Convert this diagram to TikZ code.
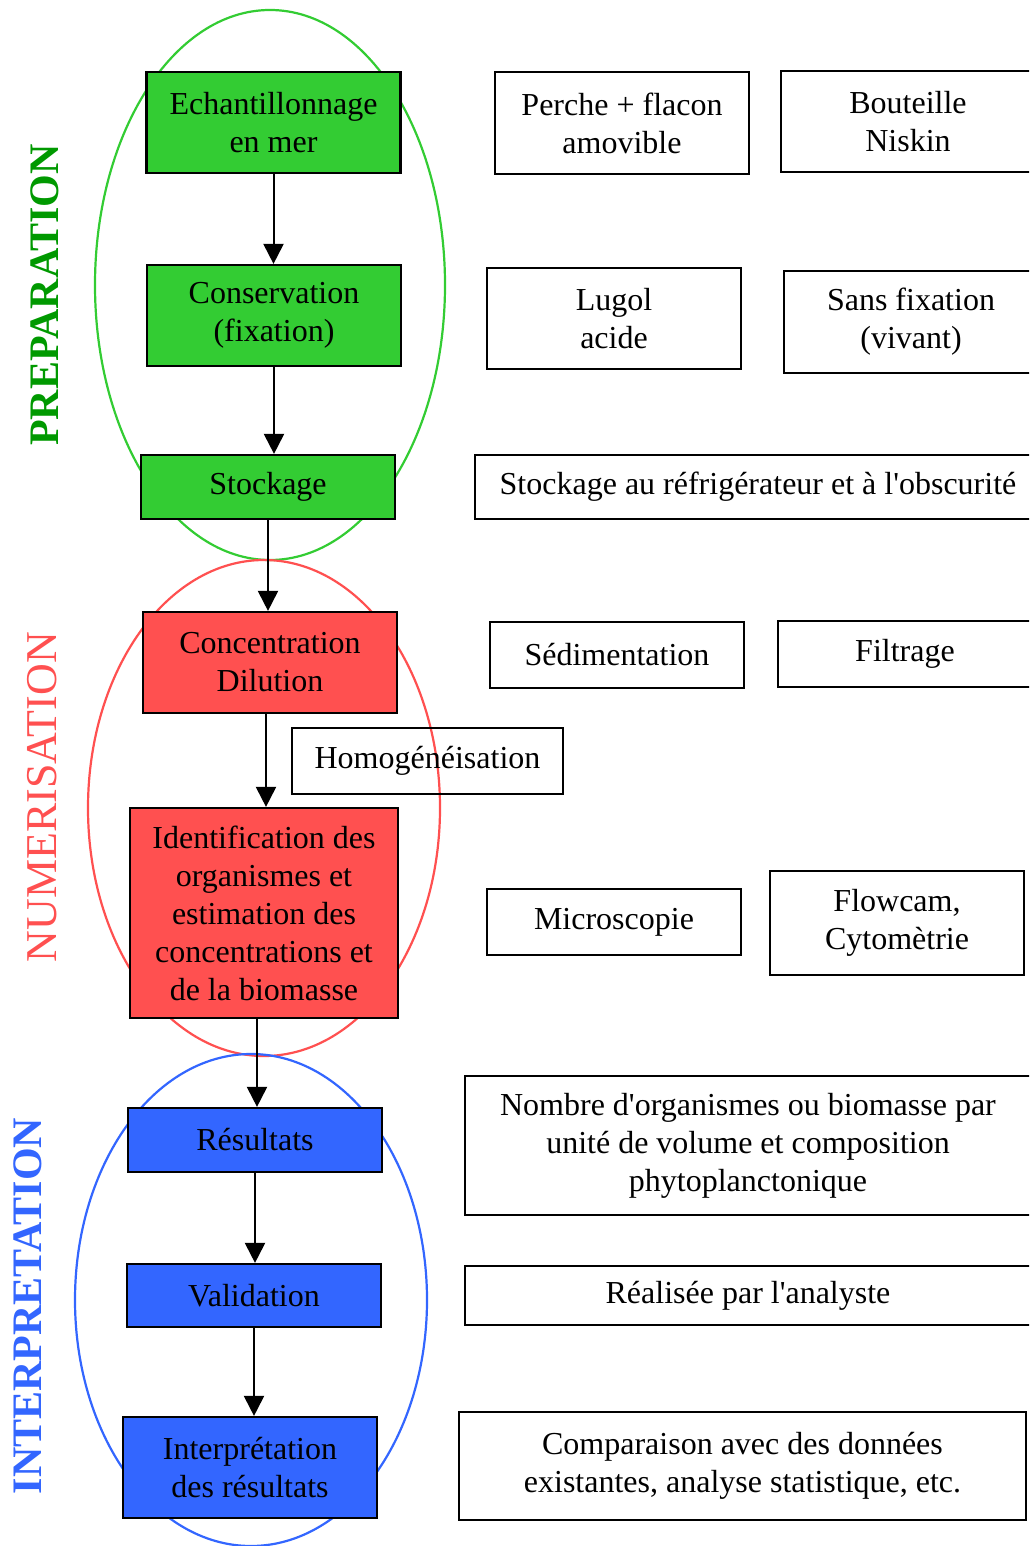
\documentclass[tikz,border=0pt]{standalone}
\usepackage{fontspec}
\setmainfont{Liberation Serif}[Ligatures=TeXOff]
\usetikzlibrary{shapes,positioning,arrows.meta}

\definecolor{vertP}{HTML}{33CC33}
\definecolor{vertT}{HTML}{009900}
\definecolor{rougeN}{HTML}{FF5050}
\definecolor{bleuI}{HTML}{3366FF}

\tikzset{
  boite/.style={draw, line width=2.2pt, inner sep=0pt, align=center,
    minimum width=254pt, font=\fontsize{32}{38}\selectfont},
  fleche/.style={line width=2pt, -{Triangle[width=20pt,length=20pt]}},
  groupe/.style={line width=2.2pt},
  titre/.style={rotate=90, font=\fontsize{42}{42}\selectfont}
}

\begin{document}
\begin{tikzpicture}[x=1pt, y=-1pt]
                    \useasboundingbox (0,0) rectangle (1029,1546);
                    \clip (0,0) rectangle (1029,1546);

                    % les trois phases
                    \draw[groupe, vertP] (270,285) ellipse [x radius=175pt, y radius=275pt];
                    \draw[groupe, rougeN] (264,808) ellipse [x radius=176pt, y radius=248pt];
                    \draw[groupe, bleuI] (251,1300) ellipse [x radius=176pt, y radius=246pt];

                    \node[titre, vertT, font=\fontsize{42}{42}\selectfont\bfseries] (tPrep) at (45,295) {PREPARATION};
                    \node[titre, rougeN, font=\fontsize{44}{44}\selectfont] (tNum) at (42,797) {NUMERISATION};
                    \node[titre, bleuI, font=\fontsize{42}{42}\selectfont\bfseries] (tInt) at (28,1306) {INTERPRETATION};

                    % etapes
                    \node[boite, fill=vertP, minimum height=101pt] (ech) at (273.5,122.5) {Echantillonnage\\en mer};
                    \node[boite, fill=vertP, minimum height=101pt] (cons) at (274,315.5) {Conservation\\(fixation)};
                    \node[boite, fill=vertP, minimum height=64pt] (stock) at (268,487) {Stockage};
                    \node[boite, fill=rougeN, minimum height=101pt] (conc) at (270,662.5) {Concentration\\Dilution};
                    \node[boite, fill=rougeN, minimum width=268pt, minimum height=210pt] (ident) at (264,913)
                    {Identification des\\organismes et\\estimation des\\concentrations et\\de la biomasse};
                    \node[boite, fill=bleuI, minimum height=64pt] (res) at (255,1140) {Résultats};
                    \node[boite, fill=bleuI, minimum height=63pt] (valid) at (254,1295.5) {Validation};
                    \node[boite, fill=bleuI, minimum height=101pt] (interp) at (250,1467.5) {Interprétation\\des résultats};

                    \draw[fleche] (ech.south) -- (ech.south |- cons.north);
                    \draw[fleche] (cons.south) -- (cons.south |- stock.north);
                    \draw[fleche] (stock.south) -- (stock.south |- conc.north);
                    \draw[fleche] ([xshift=-4pt]conc.south) -- ([xshift=-4pt]conc.south |- ident.north);
                    \draw[fleche] ([xshift=-7pt]ident.south) -- ([xshift=-7pt]ident.south |- res.north);
                    \draw[fleche] (res.south) -- (res.south |- valid.north);
                    \draw[fleche] (valid.south) -- (valid.south |- interp.north);

                    % methodes
                    \node[boite, minimum height=102pt] (perche) at (622,123) {Perche + flacon\\amovible};
                    \node[boite, minimum height=101pt] (niskin) at (908,121.5) {Bouteille\\Niskin};
                    \node[boite, minimum height=101pt] (lugol) at (614,318.5) {Lugol\\acide};
                    \node[boite, minimum height=102pt] (vivant) at (911,322) {Sans fixation\\(vivant)};
                    \node[boite, minimum width=566pt, minimum height=64pt] (frigo) at (758,487)
                    {Stockage au réfrigérateur et à l'obscurité};
                    \node[boite, minimum height=66pt] (sedim) at (617,655) {Sédimentation};
                    \node[boite, minimum height=66pt] (filtre) at (905,654) {Filtrage};
                    \node[boite, minimum width=271pt, minimum height=66pt] (homog) at (427.5,761) {Homogénéisation};
                    \node[boite, minimum height=66pt] (micro) at (614,922) {Microscopie};
                    \node[boite, minimum height=104pt] (flowcam) at (897,923) {Flowcam,\\Cytomètrie};
                    \node[boite, minimum width=566pt, minimum height=139pt] (nombre) at (748,1145.5)
                    {Nombre d'organismes ou biomasse par\\unité de volume et composition\\phytoplanctonique};
                    \node[boite, minimum width=566pt, minimum height=59pt] (analyste) at (748,1295.5) {Réalisée par l'analyste};
                    \node[boite, minimum width=567pt, minimum height=108pt] (compar) at (742.5,1466)
                    {Comparaison avec des données\\existantes, analyse statistique, etc.};
\end{tikzpicture}
\end{document}
